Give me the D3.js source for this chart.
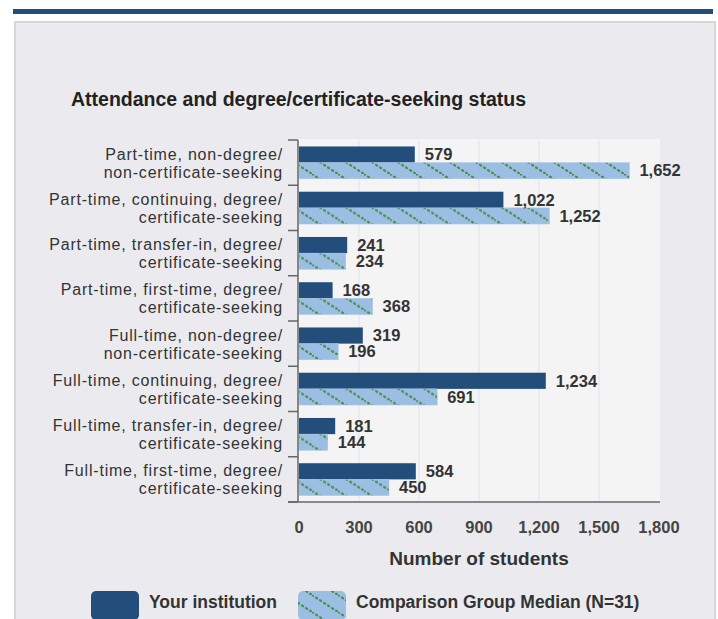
<!DOCTYPE html>
<html>
<head>
<meta charset="utf-8">
<script src="https://cdn.jsdelivr.net/npm/d3@7"></script>
<style>
  html, body { margin: 0; padding: 0; background: #fff; }
  svg { display: block; font-family: "Liberation Sans", Arial, sans-serif; }
</style>
</head>
<body>
<svg id="chart" width="718" height="619"></svg>
<script>
// categories, top to bottom, each split in two display lines
const categories = [
  ['Part-time, non-degree/', 'non-certificate-seeking'],
  ['Part-time, continuing, degree/', 'certificate-seeking'],
  ['Part-time, transfer-in, degree/', 'certificate-seeking'],
  ['Part-time, first-time, degree/', 'certificate-seeking'],
  ['Full-time, non-degree/', 'non-certificate-seeking'],
  ['Full-time, continuing, degree/', 'certificate-seeking'],
  ['Full-time, transfer-in, degree/', 'certificate-seeking'],
  ['Full-time, first-time, degree/', 'certificate-seeking']
]
const institution = [579, 1022, 241, 168, 319, 1234, 181, 584]
const comparison  = [1652, 1252, 234, 368, 196, 691, 144, 450]
const xTicks = [0, 300, 600, 900, 1200, 1500, 1800]
const seriesNames = ['Your institution', 'Comparison Group Median (N=31)']

const svg = d3.select('#chart')
const defs = svg.append('defs')

// dotted diagonal hatch for the comparison bars
const pat = defs.append('pattern')
  .attr('id', 'hatch')
  .attr('patternUnits', 'userSpaceOnUse')
  .attr('width', 26).attr('height', 17)
pat.append('rect').attr('width', 26).attr('height', 17).attr('fill', '#9cbee3')
pat.append('line')
  .attr('x1', 0).attr('y1', 0).attr('x2', 26).attr('y2', 17)
  .attr('stroke', '#469443').attr('stroke-width', 2.2)
  .attr('stroke-dasharray', '1.2,3.6').attr('stroke-linecap', 'round')

// page frame
svg.append('rect').attr('x', 13).attr('y', 9).attr('width', 700).attr('height', 5).attr('fill', '#234e7b')
svg.append('rect').attr('x', 15).attr('y', 22).attr('width', 700).attr('height', 620)
  .attr('fill', '#ebebef').attr('stroke', '#d6d6d6').attr('stroke-width', 2)

const m = { left: 299, right: 659, top: 140, bottom: 502 }

const x = d3.scaleLinear().domain([0, 1800]).range([m.left, m.right])
const y = d3.scaleBand().domain(d3.range(categories.length)).range([m.top, m.bottom])
const sub = d3.scaleBand().domain([0, 1]).range([0, y.bandwidth()]).paddingOuter(0.4).paddingInner(0)

// plot background + grid
svg.append('rect')
  .attr('x', m.left).attr('y', m.top)
  .attr('width', m.right - m.left).attr('height', m.bottom - m.top)
  .attr('fill', '#f4f4f5').attr('stroke', '#fbfbfb')

svg.append('g').selectAll('line')
  .data(xTicks.slice(1, -1))
  .join('line')
  .attr('x1', d => x(d)).attr('x2', d => x(d))
  .attr('y1', m.top).attr('y2', m.bottom)
  .attr('stroke', '#dde3ee')

svg.append('text')
  .attr('x', 71).attr('y', 106)
  .attr('font-size', 19.5).attr('font-weight', 'bold').attr('fill', '#222')
  .attr('textLength', 455)
  .text('Attendance and degree/certificate-seeking status')

// bars
const rows = svg.append('g').selectAll('g')
  .data(categories.map((c, i) => i))
  .join('g')
  .attr('transform', i => `translate(0,${y(i)})`)

rows.append('rect')
  .attr('x', x(0)).attr('y', sub(0))
  .attr('width', i => x(institution[i]) - x(0)).attr('height', sub.bandwidth())
  .attr('fill', '#234e7b')

rows.append('rect')
  .attr('x', x(0)).attr('y', sub(1))
  .attr('width', i => x(comparison[i]) - x(0)).attr('height', sub.bandwidth())
  .attr('fill', 'url(#hatch)').attr('stroke', '#a9c6e6').attr('stroke-width', 0.5)

const fmt = d3.format(',')
rows.append('text')
  .attr('x', i => x(institution[i]) + 10).attr('y', sub(0) + sub.bandwidth() / 2)
  .attr('dy', '0.35em').attr('font-size', 16.5).attr('font-weight', 'bold').attr('fill', '#333')
  .text(i => fmt(institution[i]))
rows.append('text')
  .attr('x', i => x(comparison[i]) + 10).attr('y', sub(1) + sub.bandwidth() / 2)
  .attr('dy', '0.35em').attr('font-size', 16.5).attr('font-weight', 'bold').attr('fill', '#333')
  .text(i => fmt(comparison[i]))

// y axis
svg.append('line').attr('x1', m.left - 1).attr('x2', m.left - 1)
  .attr('y1', m.top).attr('y2', m.bottom).attr('stroke', '#666').attr('stroke-width', 1.5)
svg.append('g').selectAll('line')
  .data(d3.range(categories.length + 1))
  .join('line')
  .attr('x1', m.left - 11).attr('x2', m.left - 1)
  .attr('y1', i => m.top + i * y.step()).attr('y2', i => m.top + i * y.step())
  .attr('stroke', '#666').attr('stroke-width', 1.5)

const lbl = svg.append('g').selectAll('text')
  .data(categories)
  .join('text')
  .attr('text-anchor', 'end').attr('font-size', 16).attr('letter-spacing', 0.8).attr('fill', '#333')
lbl.append('tspan').attr('x', 283).attr('y', (d, i) => y(i) + y.bandwidth() / 2 - 3).text(d => d[0])
lbl.append('tspan').attr('x', 283).attr('y', (d, i) => y(i) + y.bandwidth() / 2 + 15).text(d => d[1])

// x axis
svg.append('line').attr('x1', m.left - 11).attr('x2', m.right + 1)
  .attr('y1', m.bottom).attr('y2', m.bottom).attr('stroke', '#666').attr('stroke-width', 1.5)
svg.append('g').selectAll('text')
  .data(xTicks)
  .join('text')
  .attr('x', d => x(d)).attr('y', 533)
  .attr('text-anchor', 'middle').attr('font-size', 16.5).attr('font-weight', 'bold').attr('fill', '#444')
  .text(d => fmt(d))

svg.append('text')
  .attr('x', 479).attr('y', 565)
  .attr('text-anchor', 'middle').attr('font-size', 19).attr('font-weight', 'bold').attr('fill', '#333')
  .text('Number of students')

// legend
const legend = svg.append('g')
const lx = [91, 298]
legend.selectAll('rect')
  .data(seriesNames)
  .join('rect')
  .attr('x', (d, i) => lx[i]).attr('y', 591)
  .attr('width', 48).attr('height', 29).attr('rx', 5)
  .attr('fill', (d, i) => i === 0 ? '#234e7b' : 'url(#hatch)')
legend.selectAll('text')
  .data(seriesNames)
  .join('text')
  .attr('x', (d, i) => lx[i] + 58).attr('y', 608)
  .attr('font-size', 17.5).attr('font-weight', 'bold').attr('fill', '#333')
  .text(d => d)
</script>
</body>
</html>
